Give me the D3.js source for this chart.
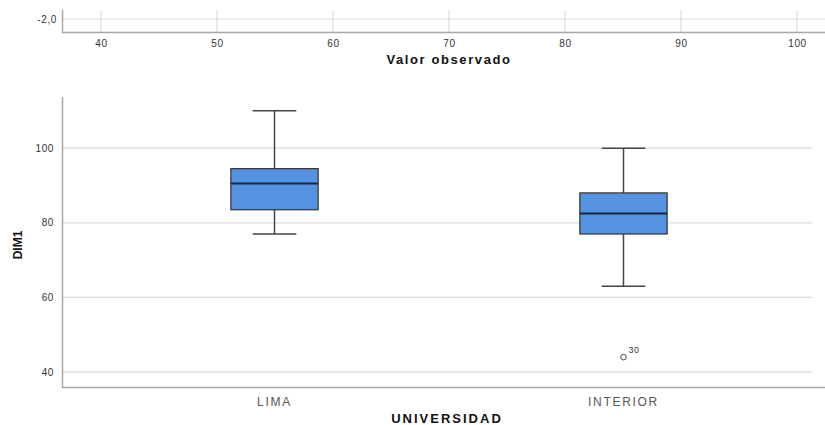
<!DOCTYPE html>
<html><head><meta charset="utf-8">
<script src="https://cdn.jsdelivr.net/npm/d3@7"></script>
<style>
body{margin:0;background:#fff;}
svg{display:block;font-family:"Liberation Sans",Arial,sans-serif;}
</style></head>
<body><svg id="c" width="825" height="425"></svg>
<script>
// Top (partial) panel
const topXTicks = [40, 50, 60, 70, 80, 90, 100];
const topYTicks = [-2.0];
const topXTitle = "Valor observado";

// Box plot panel
const categories = ["LIMA", "INTERIOR"];
const whiskerLow = [77, 63];
const q1 = [83.5, 77];
const median = [90.5, 82.5];
const q3 = [94.5, 88];
const whiskerHigh = [110, 100];
const outliers = [{cat: "INTERIOR", value: 44, label: "30"}];
const yTicks = [40, 60, 80, 100];
const yTitle = "DIM1";
const xTitle = "UNIVERSIDAD";

const svg = d3.select("#c");
const gridCol = "#dcdcdc", axisCol = "#a8a8a8", textCol = "#333";

// ---------- top panel ----------
const tx = d3.scaleLinear().domain([40, 100]).range([101, 797]);
const ty = d3.scaleLinear().domain([-2.5, -1.5]).range([32, 6]);
const topG = svg.append("g");
topG.selectAll("line.vg").data(topXTicks).join("line")
  .attr("x1", d => tx(d)).attr("x2", d => tx(d)).attr("y1", 10).attr("y2", 32)
  .attr("stroke", gridCol).attr("stroke-width", 1.2);
topG.selectAll("line.hg").data(topYTicks).join("line")
  .attr("x1", 62).attr("x2", 825).attr("y1", d => ty(d)).attr("y2", d => ty(d))
  .attr("stroke", gridCol).attr("stroke-width", 1.2);
const tAxisX = topG.append("g").attr("transform", "translate(0,32)")
  .call(d3.axisBottom(tx).tickValues(topXTicks).tickSize(0).tickPadding(8));
tAxisX.select(".domain").remove();
topG.append("line").attr("x1", 62).attr("x2", 825).attr("y1", 32.5).attr("y2", 32.5).attr("stroke", axisCol).attr("stroke-width", 1.5);
topG.append("line").attr("x1", 62.5).attr("x2", 62.5).attr("y1", 10).attr("y2", 33).attr("stroke", axisCol).attr("stroke-width", 1.5);
const tAxisY = topG.append("g").attr("transform", "translate(62,0)")
  .call(d3.axisLeft(ty).tickValues(topYTicks).tickSize(0).tickPadding(5).tickFormat(d => d3.format(".1f")(d).replace(".", ",").replace("−", "-")));
tAxisY.select(".domain").remove();
topG.selectAll("text").attr("font-size", 10).attr("fill", textCol).attr("letter-spacing", "0.6px").attr("font-family", "Liberation Sans, Arial, sans-serif");
topG.append("text").attr("x", 449).attr("y", 64).attr("text-anchor", "middle")
  .attr("font-weight", "bold").attr("font-size", 13).attr("letter-spacing", "1.6px").attr("fill", "#111").text(topXTitle);

// ---------- box plot ----------
const x = d3.scaleBand().domain(categories).range([100, 798]);
const y = d3.scaleLinear().domain([36, 113.7]).range([387, 97]);
const g = svg.append("g");
g.selectAll("line.grid").data(yTicks).join("line")
  .attr("x1", 62).attr("x2", 812).attr("y1", d => y(d)).attr("y2", d => y(d))
  .attr("stroke", gridCol).attr("stroke-width", 1.3);
const yAx = g.append("g").attr("transform", "translate(62,0)")
  .call(d3.axisLeft(y).tickValues(yTicks).tickSize(0).tickPadding(8));
yAx.select(".domain").remove();
const xAx = g.append("g").attr("transform", "translate(0,387)")
  .call(d3.axisBottom(x).tickSize(0).tickPadding(10));
xAx.select(".domain").remove();
g.selectAll(".tick text").attr("fill", textCol).attr("font-family", "Liberation Sans, Arial, sans-serif");
yAx.selectAll("text").attr("font-size", 10).attr("letter-spacing", "0.6px");
xAx.selectAll("text").attr("font-size", 12).attr("fill", "#555").attr("letter-spacing", "1.7px");
g.append("line").attr("x1", 62.5).attr("x2", 62.5).attr("y1", 97).attr("y2", 388).attr("stroke", axisCol).attr("stroke-width", 1.5);
g.append("line").attr("x1", 62).attr("x2", 825).attr("y1", 387.5).attr("y2", 387.5).attr("stroke", axisCol).attr("stroke-width", 1.5);

const bw = x.bandwidth() * 0.25;
categories.forEach((c, i) => {
  const cx = x(c) + x.bandwidth() / 2;
  const bg = g.append("g");
  bg.append("line").attr("x1", cx).attr("x2", cx).attr("y1", y(whiskerHigh[i])).attr("y2", y(q3[i])).attr("stroke", "#444").attr("stroke-width", 1.5);
  bg.append("line").attr("x1", cx).attr("x2", cx).attr("y1", y(q1[i])).attr("y2", y(whiskerLow[i])).attr("stroke", "#444").attr("stroke-width", 1.5);
  [whiskerHigh[i], whiskerLow[i]].forEach(v => {
    bg.append("line").attr("x1", cx - bw / 4).attr("x2", cx + bw / 4).attr("y1", y(v)).attr("y2", y(v)).attr("stroke", "#444").attr("stroke-width", 1.5);
  });
  bg.append("rect").attr("x", cx - bw / 2).attr("y", y(q3[i])).attr("width", bw).attr("height", y(q1[i]) - y(q3[i]))
    .attr("fill", "#5592e2").attr("stroke", "#3a3a3a").attr("stroke-width", 1.3);
  bg.append("line").attr("x1", cx - bw / 2).attr("x2", cx + bw / 2).attr("y1", y(median[i])).attr("y2", y(median[i])).attr("stroke", "#1a2a3a").attr("stroke-width", 2);
});
outliers.forEach(o => {
  const cx = x(o.cat) + x.bandwidth() / 2;
  g.append("circle").attr("cx", cx).attr("cy", y(o.value)).attr("r", 2.8).attr("fill", "none").attr("stroke", "#444").attr("stroke-width", 1);
  g.append("text").attr("x", cx + 5).attr("y", y(o.value) - 4).attr("font-size", 9).attr("letter-spacing", "0.5px").attr("fill", textCol).text(o.label);
});

svg.append("text").attr("transform", "translate(22,245) rotate(-90)").attr("text-anchor", "middle")
  .attr("font-weight", "bold").attr("font-size", 12).attr("fill", "#111").attr("font-family", "Liberation Sans Narrow, Liberation Sans, Arial, sans-serif").text(yTitle);
svg.append("text").attr("x", 447).attr("y", 423).attr("text-anchor", "middle")
  .attr("font-weight", "bold").attr("font-size", 13).attr("letter-spacing", "2px").attr("fill", "#111").text(xTitle);
</script></body></html>
